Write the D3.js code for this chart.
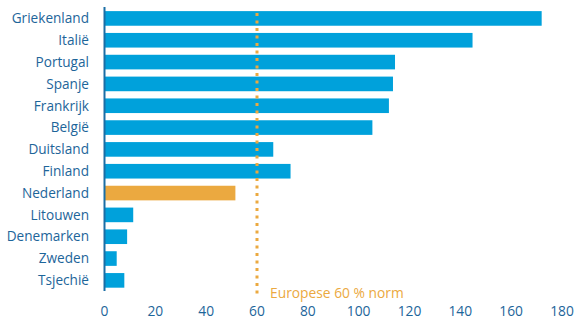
<!DOCTYPE html>
<html><head><meta charset="utf-8">
<script src="https://cdn.jsdelivr.net/npm/d3@7"></script>
<style>body{margin:0;background:#fff}svg{display:block}</style>
</head><body><svg id="c" width="577" height="320"></svg>
<script>
const categories = ["Griekenland","Italië","Portugal","Spanje","Frankrijk","België","Duitsland","Finland","Nederland","Litouwen","Denemarken","Zweden","Tsjechië"];
const values = [172, 144.8, 114.3, 113.5, 111.9, 105.4, 66.4, 73.2, 51.5, 11.3, 8.9, 4.8, 7.8];
const highlight = ["Nederland"];
const xTicks = [0,20,40,60,80,100,120,140,160,180];
const normValue = 60;
const normLabel = "Europese 60 % norm";

const font = "'Open Sans', sans-serif";
const svg = d3.select("#c");
const x = d3.scaleLinear().domain([0,180]).range([104.5,562]);
const y = d3.scaleBand().domain(categories).range([7.4,291.4]).paddingInner(0.33).paddingOuter(0.17);

svg.selectAll("rect.bar").data(categories).join("rect")
  .attr("x", x(0)).attr("y", d=>y(d))
  .attr("width", (d,i)=>x(values[i])-x(0)).attr("height", y.bandwidth())
  .attr("fill", d=>highlight.includes(d)?"#eba940":"#00a1db");

svg.append("line").attr("x1",x(normValue)).attr("x2",x(normValue))
  .attr("y1",13).attr("y2",297).attr("stroke","#eba940").attr("stroke-width",3)
  .attr("stroke-dasharray","3,4.5");

svg.append("line").attr("x1",x(0)).attr("x2",x(0)).attr("y1",7).attr("y2",291)
  .attr("stroke","#1b6ea5").attr("stroke-width",2);

svg.selectAll("text.cat").data(categories).join("text")
  .attr("x",89).attr("y",d=>y(d)+y.bandwidth()/2).attr("dy","0.35em")
  .attr("text-anchor","end").attr("font-family",font).attr("font-size",13.6)
  .attr("fill","#1d659a").text(d=>d);

svg.selectAll("text.tick").data(xTicks).join("text")
  .attr("x",d=>x(d)).attr("y",316).attr("text-anchor","middle")
  .attr("font-family",font).attr("font-size",13.8).attr("fill","#1d659a").text(d=>d);

svg.append("text").attr("x",270).attr("y",298).attr("font-family",font)
  .attr("font-size",13.8).attr("fill","#eba940").text(normLabel);
</script></body></html>
